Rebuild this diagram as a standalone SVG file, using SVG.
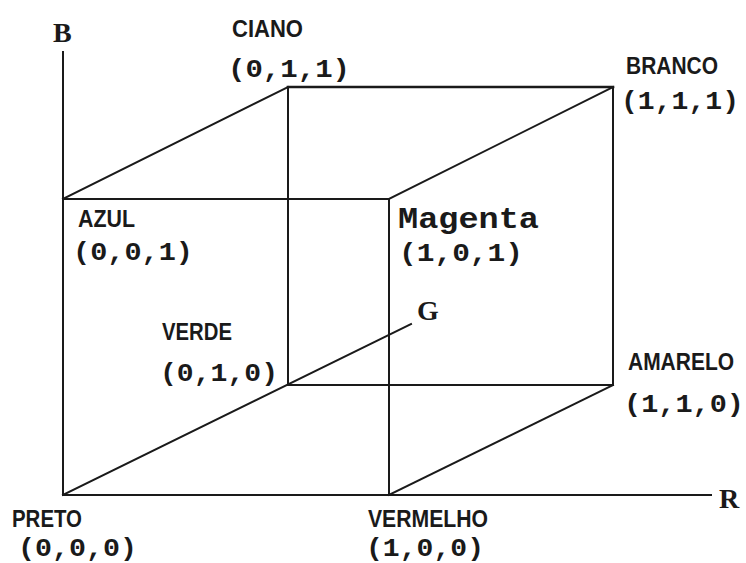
<svg xmlns="http://www.w3.org/2000/svg" width="746" height="563" viewBox="0 0 746 563">
<style>
.ln{stroke:#1a1a1a;stroke-width:2;fill:none;stroke-linecap:square}
.nm{font-family:"Liberation Sans",Arial,sans-serif;font-weight:bold;font-size:23.5px;fill:#1a1a1a}
.cd{font-family:"Liberation Mono","DejaVu Sans Mono",monospace;font-weight:bold;font-size:25px;fill:#1a1a1a}
.ax{font-family:"Liberation Serif","Times New Roman",serif;font-weight:bold;font-size:28px;fill:#1a1a1a}
</style>
<rect width="746" height="563" fill="#ffffff"/>
<g id="connectors">
<line class="ln" x1="63" y1="52" x2="63" y2="495"/>
<line class="ln" x1="63" y1="495" x2="711" y2="495"/>
<line class="ln" x1="63" y1="495" x2="411" y2="324"/>
<line class="ln" x1="63" y1="199" x2="389" y2="199"/>
<line class="ln" x1="389" y1="199" x2="389" y2="495"/>
<line class="ln" x1="288" y1="87" x2="613" y2="87" style="stroke-width:2.6"/>
<line class="ln" x1="288" y1="87" x2="288" y2="385"/>
<line class="ln" x1="613" y1="87" x2="613" y2="385"/>
<line class="ln" x1="288" y1="385" x2="613" y2="385"/>
<line class="ln" x1="63" y1="199" x2="288" y2="87"/>
<line class="ln" x1="389" y1="199" x2="613" y2="87"/>
<line class="ln" x1="389" y1="495" x2="613" y2="385"/>
</g>
<g id="axis-B"><text class="ax" x="53" y="42">B</text></g>
<g id="axis-G"><text class="ax" x="417" y="320">G</text></g>
<g id="axis-R"><text class="ax" x="719" y="508">R</text></g>
<g id="ciano">
<text class="nm" x="232" y="37" textLength="71" lengthAdjust="spacingAndGlyphs">CIANO</text>
<text class="cd" x="228" y="77" textLength="122" lengthAdjust="spacingAndGlyphs">(0,1,1)</text>
</g>
<g id="branco">
<text class="nm" x="626" y="74" textLength="92" lengthAdjust="spacingAndGlyphs">BRANCO</text>
<text class="cd" x="621" y="109" textLength="118" lengthAdjust="spacingAndGlyphs">(1,1,1)</text>
</g>
<g id="azul">
<text class="nm" x="78" y="227" textLength="57" lengthAdjust="spacingAndGlyphs">AZUL</text>
<text class="cd" x="73" y="260" textLength="120" lengthAdjust="spacingAndGlyphs">(0,0,1)</text>
</g>
<g id="magenta">
<text class="cd" x="398" y="228" style="font-size:30px" textLength="141" lengthAdjust="spacingAndGlyphs">Magenta</text>
<text class="cd" x="399" y="261" textLength="124" lengthAdjust="spacingAndGlyphs">(1,0,1)</text>
</g>
<g id="verde">
<text class="nm" x="162" y="340" textLength="70" lengthAdjust="spacingAndGlyphs">VERDE</text>
<text class="cd" x="160" y="381" textLength="118" lengthAdjust="spacingAndGlyphs">(0,1,0)</text>
</g>
<g id="amarelo">
<text class="nm" x="628" y="370" textLength="106" lengthAdjust="spacingAndGlyphs">AMARELO</text>
<text class="cd" x="624" y="412" textLength="120" lengthAdjust="spacingAndGlyphs">(1,1,0)</text>
</g>
<g id="preto">
<text class="nm" x="12" y="527" textLength="70" lengthAdjust="spacingAndGlyphs">PRETO</text>
<text class="cd" x="18" y="556" textLength="119" lengthAdjust="spacingAndGlyphs">(0,0,0)</text>
</g>
<g id="vermelho">
<text class="nm" x="368" y="527" textLength="120" lengthAdjust="spacingAndGlyphs">VERMELHO</text>
<text class="cd" x="366" y="556" textLength="118" lengthAdjust="spacingAndGlyphs">(1,0,0)</text>
</g>
</svg>
